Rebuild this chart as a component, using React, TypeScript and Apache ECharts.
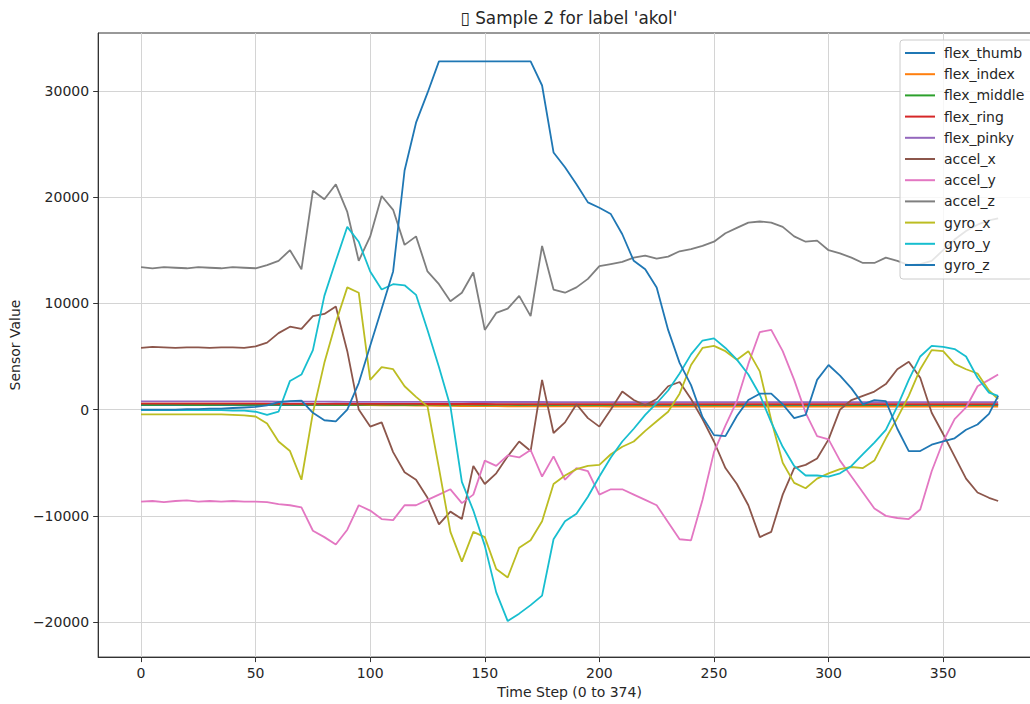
import React, { useEffect, useRef } from "react";
import * as echarts from "echarts";

// time steps (0 .. 374)
const steps = [
  0, 5, 10, 15, 20, 25, 30, 35, 40, 45,
  50, 55, 60, 65, 70, 75, 80, 85, 90, 95,
  100, 105, 110, 115, 120, 125, 130, 135, 140, 145,
  150, 155, 160, 165, 170, 175, 180, 185, 190, 195,
  200, 205, 210, 215, 220, 225, 230, 235, 240, 245,
  250, 255, 260, 265, 270, 275, 280, 285, 290, 295,
  300, 305, 310, 315, 320, 325, 330, 335, 340, 345,
  350, 355, 360, 365, 370, 374,
];

const xTicks = [0, 50, 100, 150, 200, 250, 300, 350];
const yTicks = [-20000, -10000, 0, 10000, 20000, 30000];

const seriesNames = [
  "flex_thumb", "flex_index", "flex_middle", "flex_ring", "flex_pinky",
  "accel_x", "accel_y", "accel_z", "gyro_x", "gyro_y", "gyro_z",
];

const colors = [
  "#1f77b4", "#ff7f0e", "#2ca02c", "#d62728", "#9467bd",
  "#8c564b", "#e377c2", "#7f7f7f", "#bcbd22", "#17becf", "#1f77b4",
];

const flexThumb = [
  420, 425, 418, 422, 420, 424, 419, 421, 423, 420,
  418, 422, 425, 420, 417, 421, 424, 419, 420, 423,
  418, 421, 420, 424, 419, 422, 420, 418, 423, 421,
  419, 420, 424, 418, 422, 421, 420, 419, 423, 420,
  418, 422, 421, 420, 424, 419, 420, 422, 418, 421,
  423, 420, 419, 422, 420, 421, 418, 424, 420, 419,
  422, 421, 420, 418, 423, 420, 421, 419, 422, 420,
  418, 421, 423, 420, 419, 421,
];

const flexIndex = [
  560, 555, 562, 558, 556, 560, 554, 557, 559, 552,
  550, 545, 538, 530, 520, 505, 490, 470, 455, 440,
  425, 410, 400, 390, 380, 370, 360, 350, 340, 332,
  325, 320, 315, 312, 308, 305, 302, 300, 298, 296,
  295, 293, 292, 290, 290, 288, 287, 286, 285, 285,
  284, 283, 283, 282, 282, 281, 281, 280, 280, 280,
  279, 279, 278, 278, 278, 277, 277, 277, 276, 276,
  276, 275, 275, 275, 274, 274,
];

const flexMiddle = [
  462, 458, 460, 463, 459, 461, 457, 460, 462, 458,
  461, 459, 463, 460, 458, 462, 460, 457, 461, 459,
  460, 463, 458, 461, 459, 462, 460, 458, 461, 463,
  459, 460, 462, 458, 461, 460, 459, 463, 460, 458,
  461, 459, 462, 460, 458, 461, 463, 459, 460, 462,
  458, 461, 460, 459, 462, 460, 458, 461, 463, 459,
  460, 462, 458, 461, 459, 460, 463, 458, 461, 460,
  459, 462, 460, 458, 461, 460,
];

const flexRing = [
  560, 555, 562, 558, 556, 561, 557, 559, 554, 560,
  558, 556, 552, 548, 545, 542, 540, 538, 536, 535,
  534, 533, 531, 530, 530, 529, 528, 528, 527, 526,
  526, 525, 525, 524, 524, 523, 523, 523, 522, 522,
  522, 521, 521, 521, 520, 520, 520, 520, 519, 519,
  519, 519, 518, 518, 518, 518, 518, 517, 517, 517,
  517, 517, 516, 516, 516, 516, 516, 516, 515, 515,
  515, 515, 515, 515, 514, 514,
];

const flexPinky = [
  770, 772, 768, 771, 769, 773, 770, 768, 771, 769,
  768, 765, 760, 755, 750, 746, 742, 738, 735, 732,
  730, 728, 726, 725, 723, 722, 721, 720, 719, 718,
  717, 716, 716, 715, 714, 714, 713, 713, 712, 712,
  711, 711, 710, 710, 710, 709, 709, 709, 708, 708,
  708, 707, 707, 707, 706, 706, 706, 706, 705, 705,
  705, 705, 704, 704, 704, 704, 703, 703, 703, 703,
  702, 702, 702, 702, 701, 701,
];

const accelX = [
  5800, 5900, 5850, 5800, 5850, 5850, 5800, 5850, 5850, 5800,
  5950, 6300, 7200, 7800, 7600, 8800, 9000, 9700, 5500, 0,
  -1600, -1200, -4000, -5900, -6600, -8300, -10800, -9600, -10300, -5300,
  -7000, -6000, -4400, -3000, -3900, 2800, -2200, -1200, 500, -800,
  -1600, 0, 1700, 900, 400, 1000, 2200, 2600, 1000, -900,
  -3000, -5500, -7000, -9000, -12000, -11500, -8000, -5500, -5200, -4600,
  -2800, 0, 900, 1300, 1700, 2400, 3800, 4500, 3000, -300,
  -2300, -4400, -6500, -7800, -8300, -8600,
];

const accelY = [
  -8650, -8600, -8700, -8600, -8550, -8650, -8600, -8650, -8600, -8650,
  -8650, -8700, -8900, -9000, -9200, -11400, -12000, -12700, -11300, -9000,
  -9500, -10300, -10400, -9000, -9000, -8500, -8000, -7500, -8800, -8000,
  -4800, -5300, -4300, -4500, -3800, -6300, -4400, -6600, -5500, -5800,
  -8000, -7500, -7500, -8000, -8500, -9000, -10600, -12200, -12300, -8500,
  -4000, -1500, 800, 4300, 7300, 7500, 5500, 2800, -300, -2500,
  -2800, -4800, -6300, -7800, -9300, -10000, -10200, -10300, -9400, -5800,
  -3000, -900, 200, 2200, 2800, 3300,
];

const accelZ = [
  13400, 13300, 13400, 13350, 13300, 13400, 13350, 13300, 13400, 13350,
  13300, 13600, 14000, 15000, 13200, 20600, 19800, 21200, 18600, 14000,
  16300, 20100, 18800, 15500, 16300, 13000, 11800, 10200, 11000, 12900,
  7500, 9100, 9500, 10700, 8800, 15400, 11300, 11000, 11500, 12300,
  13500, 13700, 13900, 14300, 14500, 14200, 14400, 14900, 15100, 15400,
  15800, 16600, 17100, 17600, 17700, 17600, 17200, 16300, 15800, 15900,
  15000, 14700, 14300, 13800, 13800, 14300, 14000, 13600, 13700, 14000,
  15000, 16000, 16800, 17400, 17800, 18000,
];

const gyroX = [
  -450, -450, -450, -450, -450, -450, -450, -450, -500, -550,
  -650, -1300, -3000, -3900, -6600, -300, 4400, 8200, 11500, 11000,
  2800, 4000, 3800, 2200, 1200, 300, -5500, -11500, -14300, -11500,
  -12000, -15000, -15800, -13000, -12300, -10500, -7000, -6200, -5600, -5300,
  -5200, -4200, -3500, -3000, -2000, -1100, -200, 1500, 4200, 5800,
  6000, 5500, 4700, 5500, 3600, -1000, -5000, -6900, -7400, -6500,
  -6000, -5600, -5400, -5500, -4800, -2700, -800, 1300, 3800, 5600,
  5500, 4300, 3800, 3400, 1800, 1000,
];

const gyroY = [
  -50, -50, -50, -50, -50, -50, -50, -50, -100, -100,
  -200, -500, -200, 2700, 3300, 5600, 10700, 14000, 17200, 15800,
  13000, 11300, 11800, 11700, 10800, 7500, 4000, 300, -6800, -9500,
  -12800, -17200, -19900, -19200, -18400, -17500, -12200, -10500, -9800, -8200,
  -6300, -4500, -3000, -1800, -500, 600, 1800, 3400, 5200, 6500,
  6700, 5800, 4700, 3300, 1400, -1200, -3500, -5300, -6200, -6200,
  -6300, -6000, -5300, -4200, -3100, -1900, 300, 2800, 5000, 6000,
  5900, 5700, 5000, 3000, 1600, 1300,
];

const gyroZ = [
  0, 0, 0, 0, 50, 50, 100, 100, 150, 200,
  250, 400, 700, 800, 850, -300, -1000, -1100, 0, 2500,
  6000, 9500, 13000, 22500, 27000, 29800, 32767, 32767, 32767, 32767,
  32767, 32767, 32767, 32767, 32767, 30500, 24200, 22800, 21200, 19500,
  19000, 18400, 16500, 14000, 13200, 11500, 7500, 4400, 2300, -700,
  -2400, -2500, -600, 900, 1500, 1500, 500, -800, -500, 2800,
  4200, 3200, 2000, 500, 900, 800, -1800, -3900, -3900, -3300,
  -3000, -2700, -1900, -1400, -400, 1300,
];

const TITLE = "\u25AF Sample 2 for label 'akol'";
const FONT = "'DejaVu Sans', 'Noto Sans', sans-serif";
const INK = "#262626";

export default function App() {
  const ref = useRef<HTMLDivElement>(null);

  useEffect(() => {
    if (!ref.current) return;
    const chart = echarts.init(ref.current, null, { renderer: "svg" });
    const allValues = [
      flexThumb, flexIndex, flexMiddle, flexRing, flexPinky,
      accelX, accelY, accelZ, gyroX, gyroY, gyroZ,
    ];
    const fmt = (v: number) => (v < 0 ? "\u2212" + Math.abs(v) : String(v));

    chart.setOption({
      animation: false,
      textStyle: { fontFamily: FONT },
      grid: {
        left: 97,
        top: 33,
        width: 944,
        height: 625,
        show: true,
        borderColor: "#333333",
        borderWidth: 1,
        backgroundColor: "transparent",
        containLabel: false,
      },
      xAxis: {
        type: "value",
        min: -18.7,
        max: 392.7,
        name: "Time Step (0 to 374)",
        nameLocation: "middle",
        nameGap: 27,
        nameTextStyle: { fontSize: 14, color: INK, fontFamily: FONT },
        axisLine: { show: true, onZero: false, lineStyle: { color: "#333333", width: 1 } },
        axisTick: {
          show: true,
          customValues: xTicks,
          length: 5,
          inside: false,
          lineStyle: { color: "#333333", width: 1 },
        },
        axisLabel: {
          customValues: xTicks,
          fontSize: 14,
          color: INK,
          margin: 9,
          fontFamily: FONT,
        },
        splitLine: { show: true, lineStyle: { color: "#d4d4d4", width: 1 } },
      },
      yAxis: {
        type: "value",
        min: -23290,
        max: 35440,
        name: "Sensor Value",
        nameLocation: "middle",
        nameGap: 71,
        nameTextStyle: { fontSize: 14, color: INK, fontFamily: FONT },
        axisLine: { show: true, onZero: false, lineStyle: { color: "#333333", width: 1 } },
        axisTick: {
          show: true,
          customValues: yTicks,
          length: 5,
          inside: false,
          lineStyle: { color: "#333333", width: 1 },
        },
        axisLabel: {
          customValues: yTicks,
          fontSize: 14,
          color: INK,
          margin: 9,
          fontFamily: FONT,
          formatter: (v: number) => fmt(v),
        },
        splitLine: { show: true, lineStyle: { color: "#d4d4d4", width: 1 } },
      },
      legend: {
        orient: "vertical",
        left: 900,
        top: 40,
        icon: "rect",
        itemWidth: 30,
        itemHeight: 2,
        itemGap: 7.2,
        backgroundColor: "rgba(255,255,255,0.8)",
        borderColor: "#cccccc",
        borderWidth: 1,
        borderRadius: 3,
        padding: [6, 8, 7, 5],
        textStyle: { fontSize: 14, color: INK, fontFamily: FONT, padding: [0, 0, 0, 4] },
        data: seriesNames,
      },
      graphic: [
        {
          type: "text",
          x: 569,
          y: 18,
          style: {
            text: TITLE,
            fontSize: 16.8,
            fontFamily: FONT,
            fill: INK,
            align: "center",
            verticalAlign: "middle",
          },
        },
      ],
      series: seriesNames.map((name, i) => ({
        name,
        type: "line",
        data: steps.map((t, j) => [t, allValues[i][j]]),
        showSymbol: false,
        symbol: "none",
        color: colors[i],
        itemStyle: { color: colors[i] },
        lineStyle: { color: colors[i], width: 1.8 },
        emphasis: { disabled: true },
        silent: true,
      })),
    });

    return () => chart.dispose();
  }, []);

  return (
    <div
      style={{
        position: "fixed",
        left: 0,
        top: 0,
        width: 1030,
        height: 704,
        overflow: "hidden",
        background: "#ffffff",
      }}
    >
      <div ref={ref} style={{ width: 1050, height: 704 }} />
    </div>
  );
}
